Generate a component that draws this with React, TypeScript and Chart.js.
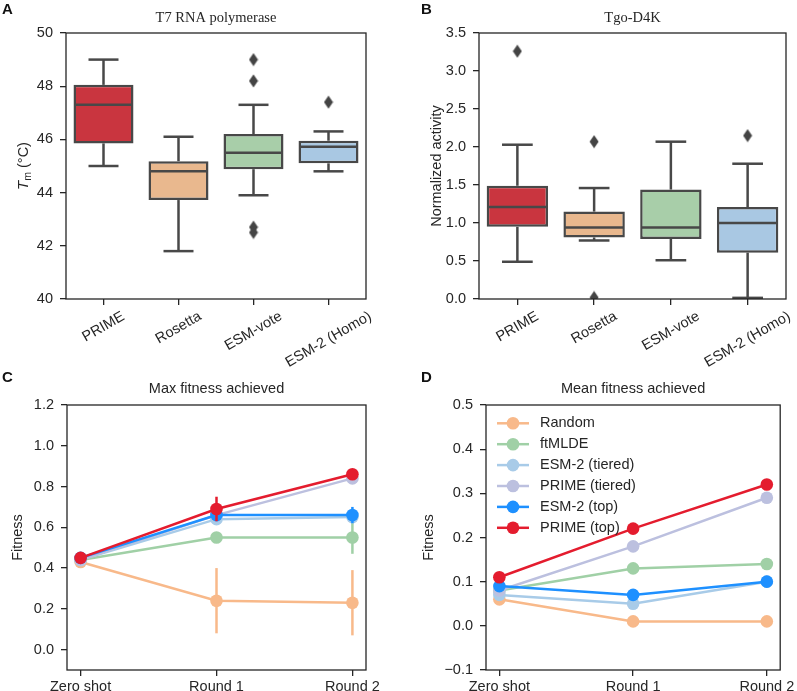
import React, { useEffect, useRef } from 'react';
import { Chart, registerables } from 'chart.js';

Chart.register(...registerables);

const SANS = '"Liberation Sans", Arial, Helvetica, sans-serif';
const SERIF = '"Liberation Serif", "Times New Roman", serif';
const INK = '#262626';
const BOX_LINE = '#484848';
const TICK_SIZE = 14.5;

// ---------- Panels A & B (box plots) ----------
const boxCategories = ['PRIME', 'Rosetta', 'ESM-vote', 'ESM-2 (Homo)'];
const boxColors = ['#C9353F', '#E9B88E', '#A8CEA9', '#A9C8E3'];

const tmTicks = [40, 42, 44, 46, 48, 50];
const tmLow = [45.0, 41.8, 43.9, 44.8];
const tmQ1 = [45.85, 43.72, 44.88, 45.1];
const tmMedian = [47.3, 44.8, 45.5, 45.72];
const tmQ3 = [48.05, 45.18, 46.2, 45.95];
const tmHigh = [49.0, 46.1, 47.3, 46.3];
const tmOutliers = [[], [], [49.0, 48.2, 42.7, 42.5], [47.4]];

const actTicks = [0, 0.5, 1.0, 1.5, 2.0, 2.5, 3.0, 3.5];
const actLow = [0.49, 0.77, 0.51, 0.015];
const actQ1 = [0.95, 0.81, 0.79, 0.61];
const actMedian = [1.21, 0.94, 0.94, 1.0];
const actQ3 = [1.49, 1.15, 1.44, 1.21];
const actHigh = [2.03, 1.46, 2.07, 1.78];
const actOutliers = [[3.26], [2.07, 0.02], [], [2.15]];

// ---------- Panels C & D (line plots) ----------
const roundLabels = ['Zero shot', 'Round 1', 'Round 2'];
const seriesNames = ['Random', 'ftMLDE', 'ESM-2 (tiered)', 'PRIME (tiered)', 'ESM-2 (top)', 'PRIME (top)'];
const seriesColors = ['#F8B98A', '#A0D0A6', '#A8CBE8', '#BCC0DF', '#1E90FF', '#E41C2E'];

const maxRandom = [0.43, 0.24, 0.23];
const maxFtmlde = [0.44, 0.55, 0.55];
const maxEsmTiered = [0.44, 0.64, 0.65];
const maxPrimeTiered = [0.44, 0.66, 0.84];
const maxEsmTop = [0.45, 0.66, 0.66];
const maxPrimeTop = [0.45, 0.69, 0.86];

const maxRandomLow = [0.41, 0.08, 0.07];
const maxRandomHigh = [0.44, 0.40, 0.39];
const maxFtmldeLow = [0.43, 0.54, 0.47];
const maxFtmldeHigh = [0.45, 0.56, 0.63];
const maxEsmTieredLow = [0.43, 0.62, 0.64];
const maxEsmTieredHigh = [0.45, 0.66, 0.67];
const maxPrimeTieredLow = [0.43, 0.64, 0.82];
const maxPrimeTieredHigh = [0.45, 0.68, 0.86];
const maxEsmTopLow = [0.44, 0.64, 0.62];
const maxEsmTopHigh = [0.46, 0.67, 0.70];
const maxPrimeTopLow = [0.44, 0.63, 0.84];
const maxPrimeTopHigh = [0.46, 0.75, 0.88];

const meanRandom = [0.06, 0.01, 0.01];
const meanFtmlde = [0.08, 0.13, 0.14];
const meanEsmTiered = [0.07, 0.05, 0.10];
const meanPrimeTiered = [0.08, 0.18, 0.29];
const meanEsmTop = [0.09, 0.07, 0.10];
const meanPrimeTop = [0.11, 0.22, 0.32];

const maxTicks = [0, 0.2, 0.4, 0.6, 0.8, 1.0, 1.2];
const meanTicks = [-0.1, 0, 0.1, 0.2, 0.3, 0.4, 0.5];

const maxSeries = [maxRandom, maxFtmlde, maxEsmTiered, maxPrimeTiered, maxEsmTop, maxPrimeTop];
const maxLows = [maxRandomLow, maxFtmldeLow, maxEsmTieredLow, maxPrimeTieredLow, maxEsmTopLow, maxPrimeTopLow];
const maxHighs = [maxRandomHigh, maxFtmldeHigh, maxEsmTieredHigh, maxPrimeTieredHigh, maxEsmTopHigh, maxPrimeTopHigh];
const meanSeries = [meanRandom, meanFtmlde, meanEsmTiered, meanPrimeTiered, meanEsmTop, meanPrimeTop];

// ---------- helpers ----------
const fmt = (v: number) => (Math.abs(v) < 1e-9 ? 0 : v).toFixed(1).replace('-', '\u2212');

function makeDiamond(color: string) {
  const c = document.createElement('canvas');
  c.width = 10;
  c.height = 14;
  const g = c.getContext('2d')!;
  g.fillStyle = color;
  g.beginPath();
  g.moveTo(5, 0.5);
  g.lineTo(9.5, 7);
  g.lineTo(5, 13.5);
  g.lineTo(0.5, 7);
  g.closePath();
  g.fill();
  return c;
}

const framePlugin = {
  id: 'frame',
  afterDraw(chart: any) {
    const { ctx, chartArea: a } = chart;
    ctx.save();
    ctx.strokeStyle = INK;
    ctx.lineWidth = 1.3;
    ctx.strokeRect(a.left, a.top, a.right - a.left, a.bottom - a.top);
    ctx.restore();
  },
};

function makeBoxPlugin(low: number[], q1: number[], median: number[], q3: number[], high: number[]) {
  return {
    id: 'boxWhiskers',
    afterDatasetsDraw(chart: any) {
      const { ctx, chartArea: a, scales } = chart;
      const xs = scales.x;
      const ys = scales.y;
      const step = xs.getPixelForValue(1) - xs.getPixelForValue(0);
      ctx.save();
      ctx.beginPath();
      ctx.rect(a.left, a.top, a.right - a.left, a.bottom - a.top);
      ctx.clip();
      ctx.strokeStyle = BOX_LINE;
      ctx.lineWidth = 2.5;
      ctx.lineCap = 'butt';
      low.forEach((_, i) => {
        const cx = xs.getPixelForValue(i);
        const seg = (x1: number, y1: number, x2: number, y2: number) => {
          ctx.beginPath();
          ctx.moveTo(x1, y1);
          ctx.lineTo(x2, y2);
          ctx.stroke();
        };
        const yLow = ys.getPixelForValue(low[i]);
        const yQ1 = ys.getPixelForValue(q1[i]);
        const yMed = ys.getPixelForValue(median[i]);
        const yQ3 = ys.getPixelForValue(q3[i]);
        const yHigh = ys.getPixelForValue(high[i]);
        seg(cx, yQ1, cx, yLow);
        seg(cx, yQ3, cx, yHigh);
        seg(cx - step * 0.2, yLow, cx + step * 0.2, yLow);
        seg(cx - step * 0.2, yHigh, cx + step * 0.2, yHigh);
        seg(cx - step * 0.4 + 1, yMed, cx + step * 0.4 - 1, yMed);
      });
      ctx.restore();
    },
  };
}

const rotatedLabelsPlugin = {
  id: 'rotLabels',
  afterDraw(chart: any) {
    const { ctx, chartArea: a, scales } = chart;
    const xs = scales.x;
    const labels: string[] = chart.data.labels;
    const ang = Math.PI / 6;
    ctx.save();
    ctx.font = `${TICK_SIZE}px ${SANS}`;
    ctx.fillStyle = INK;
    ctx.textAlign = 'center';
    ctx.textBaseline = 'middle';
    labels.forEach((lab, i) => {
      const w = ctx.measureText(lab).width;
      const h = 10;
      const cx = xs.getPixelForValue(i);
      const cy = a.bottom + 12 + (w * Math.sin(ang) + h * Math.cos(ang)) / 2;
      ctx.save();
      ctx.translate(cx, cy);
      ctx.rotate(-ang);
      ctx.fillText(lab, 0, 0);
      ctx.restore();
    });
    ctx.restore();
  },
};

const tmTitlePlugin = {
  id: 'tmTitle',
  afterDraw(chart: any) {
    const { ctx, chartArea: a } = chart;
    ctx.save();
    ctx.translate(24, (a.top + a.bottom) / 2);
    ctx.rotate(-Math.PI / 2);
    ctx.fillStyle = INK;
    ctx.textBaseline = 'middle';
    ctx.textAlign = 'left';
    const fT = `italic 15px ${SANS}`;
    const fM = `10.5px ${SANS}`;
    const fR = `14.5px ${SANS}`;
    ctx.font = fT;
    const wT = ctx.measureText('T').width;
    ctx.font = fM;
    const wM = ctx.measureText('m').width;
    ctx.font = fR;
    const rest = ' (\u00B0C)';
    const wR = ctx.measureText(rest).width;
    let x = -(wT + wM + wR) / 2;
    ctx.font = fT;
    ctx.fillText('T', x, 0);
    x += wT;
    ctx.font = fM;
    ctx.fillText('m', x, 4);
    x += wM;
    ctx.font = fR;
    ctx.fillText(rest, x, 0);
    ctx.restore();
  },
};

const errorBarPlugin = {
  id: 'errorBars',
  beforeDatasetDraw(chart: any, args: any) {
    const ds = chart.data.datasets[args.index];
    if (!ds.errLow) return;
    const { ctx, chartArea: a, scales } = chart;
    ctx.save();
    ctx.beginPath();
    ctx.rect(a.left, a.top, a.right - a.left, a.bottom - a.top);
    ctx.clip();
    ctx.strokeStyle = ds.borderColor;
    ctx.lineWidth = 2.5;
    ds.errLow.forEach((lo: number, j: number) => {
      const x = scales.x.getPixelForValue(j);
      ctx.beginPath();
      ctx.moveTo(x, scales.y.getPixelForValue(lo));
      ctx.lineTo(x, scales.y.getPixelForValue(ds.errHigh[j]));
      ctx.stroke();
    });
    ctx.restore();
  },
};

const innerLegendPlugin = {
  id: 'innerLegend',
  afterDraw(chart: any) {
    const { ctx, chartArea: a } = chart;
    ctx.save();
    seriesNames.forEach((name, i) => {
      const y = a.top + 18.3 + i * 20.9;
      const x0 = a.left + 11;
      const x1 = a.left + 43;
      ctx.strokeStyle = seriesColors[i];
      ctx.lineWidth = 2.5;
      ctx.beginPath();
      ctx.moveTo(x0, y);
      ctx.lineTo(x1, y);
      ctx.stroke();
      ctx.fillStyle = seriesColors[i];
      ctx.beginPath();
      ctx.arc((x0 + x1) / 2, y, 6.3, 0, Math.PI * 2);
      ctx.fill();
      ctx.fillStyle = INK;
      ctx.font = `${TICK_SIZE}px ${SANS}`;
      ctx.textBaseline = 'middle';
      ctx.textAlign = 'left';
      ctx.fillText(name, a.left + 54, y);
    });
    ctx.restore();
  },
};

const tickGrid = {
  display: true,
  drawOnChartArea: false,
  drawTicks: true,
  tickLength: 6,
  color: INK,
  lineWidth: 1.3,
};

function yScale(min: number, max: number, ticks: number[], width: number, title?: any) {
  return {
    type: 'linear',
    min,
    max,
    afterBuildTicks: (s: any) => {
      s.ticks = ticks.map((v) => ({ value: v }));
    },
    afterFit: (s: any) => {
      s.width = width;
    },
    ticks: {
      font: { size: TICK_SIZE, family: SANS },
      color: INK,
      padding: 7,
      callback: (v: any) => (max > 10 ? String(v) : fmt(Number(v))),
    },
    grid: tickGrid,
    border: { display: false },
    title: title || { display: false },
  };
}

function boxConfig(
  title: string,
  low: number[], q1: number[], median: number[], q3: number[], high: number[], outliers: number[][],
  yMin: number, yMax: number, ticks: number[], yWidth: number, padRight: number, xHeight: number,
  yTitle: any, extraPlugins: any[],
) {
  const diamond = makeDiamond('#444444');
  const outlierPoints: { x: string; y: number }[] = [];
  outliers.forEach((vals, i) => vals.forEach((v) => outlierPoints.push({ x: boxCategories[i], y: v })));
  return {
    type: 'bar',
    data: {
      labels: boxCategories,
      datasets: [
        {
          type: 'bar',
          data: boxCategories.map((_, i) => [q1[i], q3[i]]),
          backgroundColor: boxColors,
          borderColor: BOX_LINE,
          borderWidth: 2.5,
          borderSkipped: false,
          barPercentage: 0.8,
          categoryPercentage: 1.0,
          order: 2,
        },
        {
          type: 'line',
          data: outlierPoints,
          showLine: false,
          pointStyle: diamond,
          pointRadius: 6,
          clip: 0,
          order: 1,
        },
      ],
    },
    options: {
      responsive: false,
      maintainAspectRatio: false,
      animation: false,
      devicePixelRatio: 1,
      layout: { padding: { left: 0, right: padRight, top: 0, bottom: 0 } },
      plugins: {
        legend: { display: false },
        tooltip: { enabled: false },
        title: {
          display: true,
          text: title,
          fullSize: false,
          color: INK,
          font: { family: SERIF, size: 14.5, weight: 'normal', lineHeight: 1.2 },
          padding: { top: 9.3, bottom: 6.3 },
        },
      },
      scales: {
        x: {
          type: 'category',
          offset: true,
          grid: { ...tickGrid, offset: false },
          border: { display: false },
          ticks: { display: false },
          afterFit: (s: any) => {
            s.height = xHeight;
          },
        },
        y: yScale(yMin, yMax, ticks, yWidth, yTitle),
      },
    },
    plugins: [makeBoxPlugin(low, q1, median, q3, high), framePlugin, rotatedLabelsPlugin, ...extraPlugins],
  };
}

function lineConfig(
  title: string, series: number[][], lows: number[][] | null, highs: number[][] | null,
  yMin: number, yMax: number, ticks: number[], yWidth: number, padRight: number, titlePad: number,
  extraPlugins: any[],
) {
  return {
    type: 'scatter',
    data: {
      datasets: seriesNames.map((name, i) => ({
        label: name,
        data: series[i].map((v, j) => ({ x: j, y: v })),
        showLine: true,
        borderColor: seriesColors[i],
        backgroundColor: seriesColors[i],
        pointBackgroundColor: seriesColors[i],
        borderWidth: 2.5,
        pointRadius: 6.3,
        pointBorderWidth: 0,
        order: seriesNames.length - i,
        errLow: lows ? lows[i] : undefined,
        errHigh: highs ? highs[i] : undefined,
      })),
    },
    options: {
      responsive: false,
      maintainAspectRatio: false,
      animation: false,
      devicePixelRatio: 1,
      layout: { padding: { left: 0, right: padRight, top: 0, bottom: 0 } },
      plugins: {
        legend: { display: false },
        tooltip: { enabled: false },
        title: {
          display: true,
          text: title,
          fullSize: false,
          color: INK,
          font: { family: SANS, size: 14.5, weight: 'normal', lineHeight: 1.2 },
          padding: { top: 40.3, bottom: 7.3 },
        },
      },
      scales: {
        x: {
          type: 'linear',
          min: -0.1,
          max: 2.1,
          afterBuildTicks: (s: any) => {
            s.ticks = roundLabels.map((_, j) => ({ value: j }));
          },
          afterFit: (s: any) => {
            s.height = 21;
          },
          ticks: {
            font: { size: TICK_SIZE, family: SANS },
            color: INK,
            padding: 2,
            maxRotation: 0,
            autoSkip: false,
            callback: (v: any) => roundLabels[Math.round(Number(v))] ?? '',
          },
          grid: tickGrid,
          border: { display: false },
        },
        y: yScale(yMin, yMax, ticks, yWidth, {
          display: true,
          text: 'Fitness',
          color: INK,
          font: { family: SANS, size: 14.5, lineHeight: 1.2 },
          padding: { top: titlePad, bottom: 0 },
        }),
      },
    },
    plugins: [errorBarPlugin, framePlugin, ...extraPlugins],
  };
}

function ChartCanvas({ make, left, top, width, height }: any) {
  const ref = useRef<HTMLCanvasElement | null>(null);
  useEffect(() => {
    const chart = new Chart(ref.current as HTMLCanvasElement, make());
    return () => chart.destroy();
  }, []);
  return (
    <canvas
      ref={ref}
      width={width}
      height={height}
      style={{ position: 'absolute', left, top, width, height, display: 'block' }}
    />
  );
}

const letterStyle = (left: number, top: number): React.CSSProperties => ({
  position: 'absolute',
  left,
  top,
  font: `bold 15px ${SANS}`,
  lineHeight: '15px',
  color: '#111',
});

export default function App() {
  return (
    <div style={{ position: 'absolute', left: 0, top: 0, width: 797, height: 691, background: '#fff', overflow: 'hidden' }}>
      <ChartCanvas
        left={0}
        top={0}
        width={400}
        height={380}
        make={() =>
          boxConfig('T7 RNA polymerase', tmLow, tmQ1, tmMedian, tmQ3, tmHigh, tmOutliers,
            40, 50, tmTicks, 66, 34, 81, null, [tmTitlePlugin])
        }
      />
      <ChartCanvas
        left={400}
        top={0}
        width={397}
        height={380}
        make={() =>
          boxConfig('Tgo-D4K', actLow, actQ1, actMedian, actQ3, actHigh, actOutliers,
            0, 3.5, actTicks, 79, 11, 81,
            {
              display: true,
              text: 'Normalized activity',
              color: INK,
              font: { family: SANS, size: 14.5, lineHeight: 1.2 },
              padding: { top: 28.3, bottom: 0 },
            }, [])
        }
      />
      <ChartCanvas
        left={0}
        top={340}
        width={400}
        height={351}
        make={() =>
          lineConfig('Max fitness achieved', maxSeries, maxLows, maxHighs, -0.1, 1.2, maxTicks, 67, 34, 9.3, [])
        }
      />
      <ChartCanvas
        left={400}
        top={340}
        width={397}
        height={351}
        make={() =>
          lineConfig('Mean fitness achieved', meanSeries, null, null, -0.1, 0.5, meanTicks, 86, 11, 20.3, [innerLegendPlugin])
        }
      />
      <div style={letterStyle(2, 0.5)}>A</div>
      <div style={letterStyle(421, 0.5)}>B</div>
      <div style={letterStyle(2, 368.5)}>C</div>
      <div style={letterStyle(421, 368.5)}>D</div>
    </div>
  );
}
